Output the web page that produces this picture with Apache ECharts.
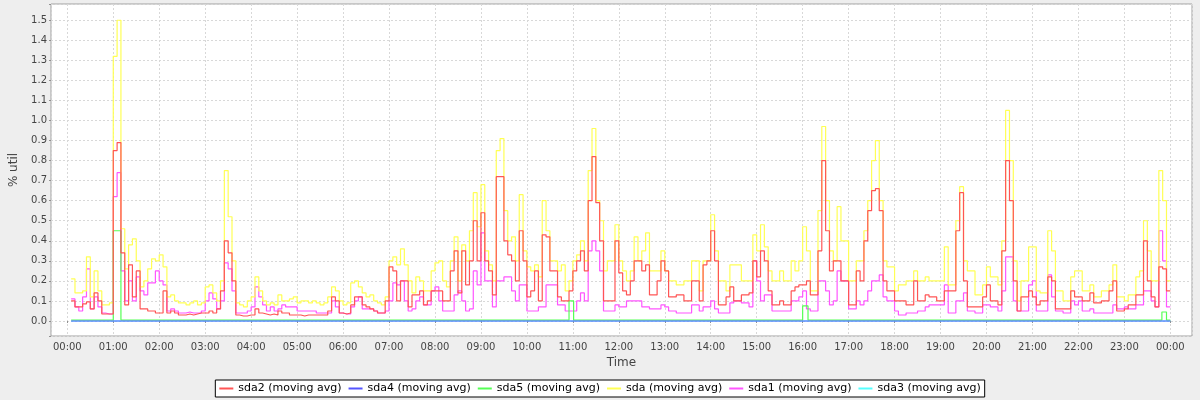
<!DOCTYPE html>
<html><head><meta charset="utf-8">
<script src="https://cdn.jsdelivr.net/npm/echarts@6/dist/echarts.min.js"></script>
<style>html,body{margin:0;padding:0;background:#eeeeee}#c{width:1200px;height:400px}</style>
</head><body><div id="c"></div>
<script>
// sample grid: one value every 5 minutes, starting 00:05, ending 24:00
const startMinute = 5, stepMinutes = 5;

const sda2Values = [
  0.10,0.07,0.07,0.085,0.095,0.06,0.14,0.10,0.035,0.035,0.035,
  0.85,0.89,0.34,0.08,0.28,0.12,0.25,0.06,0.06,0.05,0.05,0.04,
  0.04,0.15,0.04,0.05,0.04,0.03,0.03,0.035,0.03,0.035,0.04,0.04,
  0.04,0.05,0.04,0.06,0.15,0.40,0.34,0.20,0.03,0.025,0.025,0.03,
  0.03,0.06,0.04,0.035,0.03,0.035,0.03,0.05,0.04,0.04,0.03,0.03,
  0.03,0.025,0.03,0.03,0.03,0.03,0.03,0.03,0.05,0.12,0.10,0.04,
  0.035,0.04,0.08,0.12,0.12,0.08,0.07,0.06,0.05,0.04,0.04,0.10,
  0.27,0.25,0.10,0.20,0.20,0.07,0.13,0.13,0.15,0.08,0.10,0.15,
  0.15,0.15,0.10,0.10,0.25,0.35,0.14,0.35,0.18,0.30,0.50,0.30,
  0.54,0.30,0.25,0.13,0.72,0.72,0.40,0.33,0.30,0.20,0.45,0.30,
  0.12,0.15,0.25,0.10,0.43,0.42,0.25,0.25,0.12,0.10,0.10,0.15,
  0.25,0.30,0.35,0.25,0.60,0.82,0.59,0.40,0.10,0.10,0.10,0.40,
  0.24,0.15,0.13,0.20,0.30,0.30,0.25,0.28,0.13,0.13,0.20,0.30,
  0.25,0.12,0.12,0.13,0.13,0.10,0.10,0.20,0.20,0.10,0.28,0.30,
  0.45,0.30,0.08,0.08,0.12,0.17,0.10,0.10,0.13,0.13,0.14,0.30,
  0.22,0.35,0.30,0.15,0.08,0.08,0.10,0.08,0.08,0.15,0.17,0.18,
  0.18,0.20,0.13,0.13,0.35,0.80,0.45,0.25,0.30,0.30,0.20,0.20,
  0.08,0.08,0.25,0.20,0.40,0.55,0.65,0.66,0.55,0.20,0.15,0.15,
  0.10,0.10,0.10,0.08,0.08,0.20,0.10,0.10,0.13,0.12,0.12,0.10,
  0.10,0.15,0.15,0.15,0.45,0.64,0.20,0.07,0.07,0.07,0.07,0.12,
  0.18,0.10,0.10,0.08,0.35,0.80,0.60,0.20,0.05,0.12,0.12,0.15,
  0.12,0.08,0.10,0.10,0.22,0.20,0.06,0.06,0.06,0.06,0.15,0.12,
  0.12,0.10,0.10,0.14,0.09,0.09,0.10,0.10,0.15,0.20,0.05,0.05,
  0.06,0.08,0.08,0.13,0.13,0.40,0.20,0.12,0.07,0.27,0.26,0.15,
  0.15
];

const sdaValues = [
  0.21,0.14,0.14,0.15,0.32,0.12,0.25,0.15,0.08,0.08,0.09,
  1.32,1.50,0.46,0.26,0.38,0.41,0.30,0.17,0.20,0.26,0.31,0.30,
  0.33,0.27,0.12,0.13,0.10,0.09,0.09,0.08,0.09,0.10,0.08,0.09,
  0.17,0.18,0.14,0.10,0.20,0.75,0.52,0.30,0.09,0.08,0.07,0.10,
  0.12,0.22,0.15,0.10,0.08,0.09,0.08,0.13,0.10,0.10,0.11,0.12,
  0.09,0.10,0.10,0.09,0.10,0.09,0.08,0.09,0.12,0.17,0.15,0.10,
  0.08,0.09,0.19,0.20,0.17,0.14,0.12,0.13,0.10,0.09,0.08,0.12,
  0.30,0.32,0.28,0.36,0.28,0.20,0.14,0.22,0.20,0.15,0.15,0.25,
  0.29,0.30,0.20,0.17,0.30,0.42,0.20,0.38,0.30,0.45,0.64,0.47,
  0.68,0.35,0.28,0.20,0.85,0.91,0.55,0.40,0.42,0.30,0.63,0.35,
  0.27,0.25,0.28,0.22,0.60,0.45,0.30,0.30,0.25,0.28,0.15,0.20,
  0.30,0.33,0.40,0.30,0.75,0.96,0.60,0.50,0.25,0.30,0.30,0.48,
  0.30,0.25,0.20,0.25,0.42,0.30,0.35,0.44,0.25,0.25,0.25,0.35,
  0.25,0.20,0.20,0.18,0.18,0.20,0.20,0.30,0.30,0.15,0.30,0.30,
  0.53,0.35,0.20,0.20,0.15,0.28,0.28,0.28,0.20,0.20,0.20,0.43,
  0.35,0.48,0.37,0.25,0.20,0.20,0.25,0.20,0.20,0.30,0.25,0.30,
  0.47,0.35,0.15,0.15,0.55,0.97,0.60,0.35,0.30,0.57,0.40,0.40,
  0.20,0.20,0.30,0.30,0.45,0.60,0.80,0.90,0.60,0.30,0.27,0.27,
  0.15,0.18,0.18,0.20,0.20,0.25,0.20,0.20,0.22,0.20,0.20,0.20,
  0.20,0.37,0.18,0.18,0.50,0.67,0.30,0.25,0.25,0.13,0.13,0.18,
  0.27,0.22,0.22,0.18,0.40,1.05,0.80,0.30,0.10,0.20,0.20,0.37,
  0.37,0.15,0.14,0.14,0.45,0.35,0.15,0.15,0.10,0.10,0.22,0.25,
  0.25,0.15,0.15,0.18,0.12,0.12,0.15,0.15,0.18,0.28,0.12,0.12,
  0.10,0.13,0.13,0.22,0.25,0.50,0.35,0.20,0.20,0.75,0.60,0.20,
  0.20
];

const sda1Values = [
  0.11,0.07,0.05,0.12,0.26,0.06,0.12,0.07,0.04,0.035,0.035,
  0.62,0.74,0.25,0.10,0.20,0.10,0.22,0.15,0.13,0.19,0.19,0.25,
  0.20,0.18,0.05,0.06,0.05,0.04,0.04,0.045,0.04,0.04,0.04,0.05,
  0.10,0.14,0.11,0.06,0.10,0.29,0.26,0.15,0.04,0.04,0.04,0.05,
  0.07,0.17,0.12,0.08,0.05,0.07,0.05,0.06,0.08,0.07,0.07,0.07,
  0.05,0.05,0.05,0.05,0.05,0.04,0.04,0.04,0.04,0.10,0.07,0.04,
  0.035,0.035,0.07,0.10,0.12,0.06,0.06,0.06,0.05,0.04,0.04,0.05,
  0.10,0.19,0.18,0.20,0.10,0.05,0.06,0.10,0.12,0.08,0.08,0.15,
  0.17,0.10,0.05,0.05,0.05,0.13,0.15,0.10,0.05,0.06,0.25,0.18,
  0.44,0.20,0.20,0.07,0.20,0.20,0.22,0.22,0.15,0.10,0.18,0.18,
  0.05,0.05,0.05,0.07,0.07,0.18,0.18,0.18,0.08,0.08,0.05,0.05,
  0.05,0.10,0.14,0.10,0.35,0.40,0.35,0.25,0.05,0.05,0.05,0.08,
  0.07,0.07,0.10,0.10,0.10,0.10,0.07,0.07,0.06,0.06,0.06,0.08,
  0.07,0.05,0.05,0.04,0.04,0.04,0.04,0.08,0.08,0.05,0.07,0.07,
  0.10,0.06,0.04,0.04,0.04,0.09,0.10,0.10,0.09,0.09,0.07,0.30,
  0.20,0.10,0.13,0.13,0.05,0.05,0.05,0.05,0.05,0.10,0.10,0.12,
  0.15,0.06,0.05,0.05,0.20,0.20,0.15,0.08,0.10,0.25,0.20,0.20,
  0.06,0.06,0.10,0.08,0.10,0.15,0.20,0.20,0.23,0.12,0.10,0.10,
  0.05,0.03,0.03,0.04,0.04,0.04,0.05,0.05,0.07,0.08,0.08,0.08,
  0.08,0.18,0.04,0.04,0.10,0.10,0.14,0.05,0.05,0.04,0.04,0.08,
  0.08,0.07,0.07,0.05,0.15,0.32,0.32,0.10,0.05,0.05,0.05,0.18,
  0.20,0.05,0.05,0.05,0.23,0.12,0.05,0.05,0.04,0.04,0.10,0.08,
  0.10,0.05,0.05,0.06,0.04,0.04,0.04,0.04,0.04,0.08,0.06,0.06,
  0.07,0.06,0.06,0.08,0.08,0.15,0.15,0.10,0.07,0.45,0.30,0.07,
  0.07
];

// sda5: change points (minute of day) and held values
const sda5Minutes = [5, 60, 70, 655, 661, 960, 967, 1429, 1435, 1440];
const sda5Values  = [0.005, 0.45, 0.005, 0.10, 0.005, 0.075, 0.005, 0.045, 0.005, 0.005];
// sda4 and sda3 stay at zero all day
const flatMinutes = [5, 1440];
const sda4Values = [0, 0];
const sda3Values = [0, 0];

const base = Date.UTC(2012, 0, 1);
const t = m => base + m * 60000;
const gridded = vals => vals.map((v, i) => [t(startMinute + i * stepMinutes), v]);
const paired = (mins, vals) => mins.map((m, i) => [t(m), vals[i]]);
const pad = n => (n < 10 ? '0' : '') + n;

const chart = echarts.init(document.getElementById('c'), null, { renderer: 'canvas' });
const font = 'DejaVu Sans';
const line = (name, data, color) => ({
  name, type: 'line', data, step: 'end', symbol: 'none', showSymbol: false,
  lineStyle: { color, width: 1.2 }, itemStyle: { color },
  emphasis: { disabled: true }, silent: true
});

chart.setOption({
  useUTC: true,
  animation: false,
  backgroundColor: '#eeeeee',
  textStyle: { fontFamily: font },
  grid: { left: 51, right: 8, top: 4, bottom: 64, show: true, backgroundColor: '#ffffff',
          borderColor: '#a0a0a0', borderWidth: 1 },
  xAxis: {
    type: 'time', min: t(-21.3), max: t(1468.3),
    minInterval: 3600000, maxInterval: 3600000, splitNumber: 25,
    name: 'Time', nameLocation: 'middle', nameGap: 18,
    nameTextStyle: { fontSize: 12, color: '#444', fontFamily: font },
    axisLine: { show: false },
    axisTick: { show: true, length: 2, lineStyle: { color: '#909090' } },
    axisLabel: { fontSize: 10, color: '#444', margin: 6, interval: 0, hideOverlap: false,
      formatter: v => { const d = new Date(v); return pad(d.getUTCHours()) + ':' + pad(d.getUTCMinutes()); } },
    splitLine: { show: true, lineStyle: { color: '#d8d8d8', type: [2, 2], width: 1 } },
    minorTick: { show: false }
  },
  yAxis: {
    type: 'value', min: -0.0748, max: 1.581, minInterval: 0.1, maxInterval: 0.1, splitNumber: 16,
    name: '% util', nameLocation: 'middle', nameGap: 29, nameRotate: 90,
    nameTextStyle: { fontSize: 12, color: '#444', fontFamily: font },
    axisLine: { show: false },
    axisTick: { show: true, length: 2, lineStyle: { color: '#909090' } },
    axisLabel: { fontSize: 10, color: '#444', margin: 4,
      formatter: v => { const r = Math.round(v * 10); return Math.abs(v * 10 - r) < 1e-6 ? (r / 10).toFixed(1) : ''; } },
    splitLine: { show: true, lineStyle: { color: '#d8d8d8', type: [2, 2], width: 1 } }
  },
  legend: {
    data: ['sda2 (moving avg)', 'sda4 (moving avg)', 'sda5 (moving avg)', 'sda (moving avg)', 'sda1 (moving avg)', 'sda3 (moving avg)'],
    left: 'center', bottom: 3, icon: 'rect', itemWidth: 14, itemHeight: 2, itemGap: 7,
    padding: [3, 4], borderColor: '#000', borderWidth: 1, borderRadius: 0, backgroundColor: '#ffffff',
    textStyle: { fontSize: 11, color: '#000', fontFamily: font }, selectedMode: false
  },
  series: [
    line('sda3 (moving avg)', paired(flatMinutes, sda3Values), '#55FFFF'),
    line('sda1 (moving avg)', gridded(sda1Values), '#FF55FF'),
    line('sda (moving avg)', gridded(sdaValues), '#FFFF55'),
    line('sda5 (moving avg)', paired(sda5Minutes, sda5Values), '#55FF55'),
    line('sda4 (moving avg)', paired(flatMinutes, sda4Values), '#5555FF'),
    line('sda2 (moving avg)', gridded(sda2Values), '#FF5555')
  ]
});
</script></body></html>
